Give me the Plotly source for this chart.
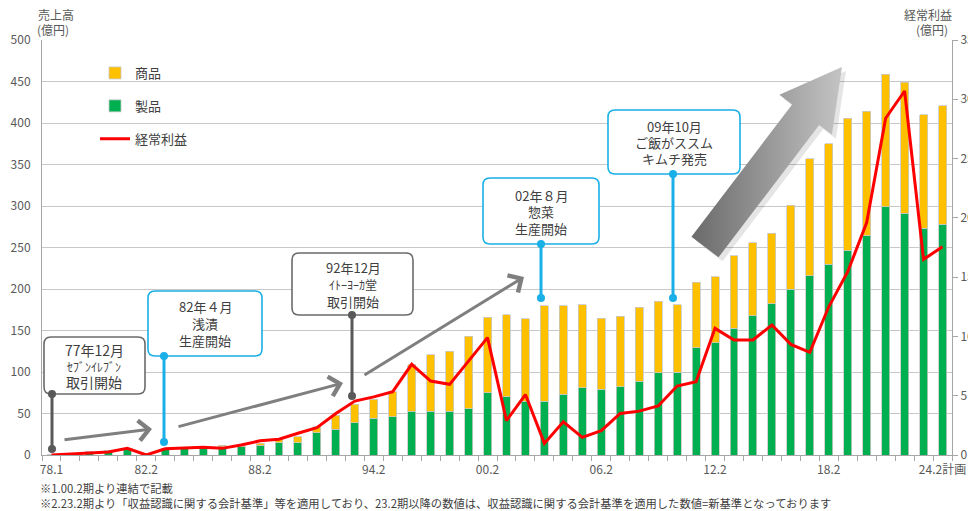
import plotly.graph_objects as go
import numpy as np

# ---------------- DATA ----------------
periods = ["78.1", "79.1", "80.1", "81.1", "82.1", "82.2", "83.2", "84.2", "85.2", "86.2",
           "87.2", "88.2", "89.2", "90.2", "91.2", "92.2", "93.2", "94.2", "95.2", "96.2",
           "97.2", "98.2", "99.2", "00.2", "01.2", "02.2", "03.2", "04.2", "05.2", "06.2",
           "07.2", "08.2", "09.2", "10.2", "11.2", "12.2", "13.2", "14.2", "15.2", "16.2",
           "17.2", "18.2", "19.2", "20.2", "21.2", "22.2", "23.2", "24.2計画"]

tick_labels = ["78.1", "82.2", "88.2", "94.2", "00.2", "06.2", "12.2", "18.2", "24.2計画"]

# 製品 (億円)
seihin = [1, 2, 4, 5, 7, 0.5, 7, 8, 9, 10,
          10, 12, 15, 15, 27, 31, 39, 44, 46, 53,
          53, 53, 56, 75, 70, 65, 65, 73, 81, 79,
          82, 89, 99, 100, 129, 135, 153, 168, 182, 200,
          216, 230, 246, 264, 299, 291, 273, 278]

# 商品 (億円)
shohin = [0, 0, 0, 0, 1, 0, 1, 1, 1, 2,
          1, 2, 5, 7, 7, 17, 22, 23, 30, 56,
          68, 72, 87, 91, 99, 99, 115, 107, 100, 86,
          85, 89, 86, 81, 79, 80, 87, 88, 85, 101,
          141, 145, 160, 150, 160, 158, 137, 143]

# 経常利益 (億円)
keijo = [0, 0.1, 0.2, 0.25, 0.56, 0, 0.53, 0.62, 0.65, 0.56,
         0.84, 1.2, 1.33, 1.83, 2.3, 3.5, 4.55, 4.9, 5.34, 7.65,
         6.24, 5.96, 7.93, 9.9, 2.9, 5.1, 0.98, 2.8, 1.49, 2.05,
         3.5, 3.7, 4.13, 5.82, 6.18, 10.68, 9.7, 9.7, 10.96, 9.33,
         8.66, 12.5, 15.46, 19.6, 28.4, 30.7, 16.5, 17.56]

# ---------------- STYLE ----------------
FONT = "Noto Sans CJK JP"
TXT = "#404040"
AX = "#a6a6a6"
GRID = "#c8c8c8"
ORANGE = "#FFC000"
GREEN = "#00B050"
RED = "#FF0000"
GRAYBOX = "#6b6b6b"
BLUE = "#1AAFE6"

W, H = 968, 511
ML, MR, MT, MB = 42, 16, 40, 56
PX0, PX1, PY0, PY1 = ML, W - MR, MT, H - MB  # plot area in pixels


def to_paper(px, py):
    return (px - PX0) / (PX1 - PX0), (PY1 - py) / (PY1 - PY0)


xs = list(range(len(periods)))
tickvals = [periods.index(t) for t in tick_labels]

fig = go.Figure()

fig.add_trace(go.Bar(x=xs, y=seihin, name="製品", marker_color=GREEN,
                     marker_line=dict(color="#c8c8c8", width=0.8), width=0.42,
                     legendrank=2, legendgroup="g2", hoverinfo="skip"))
fig.add_trace(go.Bar(x=xs, y=shohin, name="商品", marker_color=ORANGE,
                     marker_line=dict(color="#c8c8c8", width=0.8), width=0.42,
                     legendrank=1, legendgroup="g1", hoverinfo="skip"))
fig.add_trace(go.Scatter(x=xs, y=keijo, name="経常利益", mode="lines", yaxis="y2",
                         line=dict(color=RED, width=3), legendrank=3, legendgroup="g3",
                         hoverinfo="skip"))

# ---------------- BIG GRADIENT ARROW (pixel coords on overlay axes) ----------------
T = np.array([705.0, 247.0])   # tail centre
P = np.array([842.0, 67.0])    # tip
u = (P - T) / np.linalg.norm(P - T)
n = np.array([-u[1], u[0]])
B = P - u * 60                 # head base centre
w, h = 17, 33
pts = [T + w * n, B + w * n, B + h * n, P, B - h * n, B - w * n, T - w * n, T + w * n]
ax_ = [p[0] for p in pts]
ay_ = [p[1] for p in pts]

fig.add_trace(go.Scatter(x=[a + 4 for a in ax_], y=[b + 4 for b in ay_], xaxis="x3", yaxis="y3",
                         mode="lines", line=dict(width=0), fill="toself",
                         fillcolor="rgba(0,0,0,0.10)", showlegend=False, hoverinfo="skip"))
fig.add_trace(go.Scatter(x=ax_, y=ay_, xaxis="x3", yaxis="y3", mode="lines",
                         line=dict(width=0), fill="toself",
                         fillgradient=dict(type="horizontal",
                                           colorscale=[[0, "#6a6a6a"], [1, "#c4c4c4"]]),
                         showlegend=False, hoverinfo="skip"))


def rrect(x0, y0, x1, y1, r=7):
    return (f"M{x0+r},{y0} L{x1-r},{y0} Q{x1},{y0} {x1},{y0+r} L{x1},{y1-r} "
            f"Q{x1},{y1} {x1-r},{y1} L{x0+r},{y1} Q{x0},{y1} {x0},{y1-r} "
            f"L{x0},{y0+r} Q{x0},{y0} {x0+r},{y0} Z")


shapes = []
annotations = []

callouts = [
    ((44, 337, 145, 394), GRAYBOX, 52, (394, 449),
     [(94, 350, "77年12月", 14), (94, 366, "ｾﾌﾞﾝｲﾚﾌﾞﾝ", 12), (94, 382, "取引開始", 14)]),
    ((148, 291, 262, 356), BLUE, 164, (356, 442),
     [(205, 306, "82年４月", 13), (205, 323, "浅漬", 13), (205, 340, "生産開始", 13)]),
    ((292, 253, 413, 315), GRAYBOX, 352, (315, 396),
     [(353, 267, "92年12月", 13), (353, 284, "ｲﾄｰﾖｰｶ堂", 12), (353, 301, "取引開始", 13)]),
    ((483, 178, 599, 244), BLUE, 541, (244, 298),
     [(541, 195, "02年８月", 13), (541, 211, "惣菜", 13), (541, 228, "生産開始", 13)]),
    ((608, 110, 740, 174), BLUE, 673, (174, 298),
     [(674, 126, "09年10月", 13), (674, 142, "ご飯がススム", 13), (674, 158, "キムチ発売", 13)]),
]

for (x0, y0, x1, y1), col, px, (py0, py1), lines in callouts:
    c = col if col == BLUE else "#595959"
    shapes.append(dict(type="path", path=rrect(x0, y0, x1, y1), xref="x3", yref="y3",
                       line=dict(color=col, width=1.6), fillcolor="white", layer="above"))
    shapes.append(dict(type="line", x0=px, x1=px, y0=py0, y1=py1, xref="x3", yref="y3",
                       line=dict(color=c, width=3)))
    for yy in (py0, py1):
        shapes.append(dict(type="circle", x0=px - 4, x1=px + 4, y0=yy - 4, y1=yy + 4,
                           xref="x3", yref="y3", fillcolor=c, line=dict(color=c, width=0)))
    for tx, ty, t, fs in lines:
        annotations.append(dict(x=tx, y=ty, xref="x3", yref="y3", text=t, showarrow=False,
                                font=dict(family=FONT, size=fs, color=TXT),
                                xanchor="center", yanchor="middle"))

# thin gray arrows
for (tx0, ty0), (tx1, ty1) in [((63, 440), (152, 429)), ((177, 427), (343, 383)),
                               ((363, 376), (524, 277))]:
    annotations.append(dict(x=tx1, y=ty1, ax=tx0, ay=ty0, xref="x3", yref="y3",
                            axref="x3", ayref="y3", text="", showarrow=True,
                            arrowhead=4, arrowsize=1.3, arrowwidth=3, arrowcolor="#7f7f7f"))

# axis titles (paper coords, outside plot area)
for tx, ty, t, anc in [(36, 14, "売上高", "left"), (35, 30, "(億円)", "left"),
                       (954, 14, "経常利益", "right"), (950, 30, "(億円)", "right")]:
    xp, yp = to_paper(tx, ty)
    annotations.append(dict(x=xp, y=yp, xref="paper", yref="paper", text=t, showarrow=False,
                            font=dict(family=FONT, size=12, color="#595959"),
                            xanchor=anc, yanchor="middle"))

# footnotes
for ty, t in [(488, "※1.00.2期より連結で記載"),
              (503, "※2.23.2期より「収益認識に関する会計基準」等を適用しており、23.2期以降の数値は、"
                    "収益認識に関する会計基準を適用した数値=新基準となっております")]:
    xp, yp = to_paper(38, ty)
    annotations.append(dict(x=xp, y=yp, xref="paper", yref="paper", text=t, showarrow=False,
                            font=dict(family=FONT, size=11.3, color=TXT),
                            xanchor="left", yanchor="middle"))

lx, ly = to_paper(95, 58)

fig.update_layout(
    width=W, height=H,
    margin=dict(l=ML, r=MR, t=MT, b=MB, pad=0, autoexpand=False),
    paper_bgcolor="white", plot_bgcolor="white",
    barmode="stack", bargap=0.5,
    font=dict(family=FONT, color="#595959", size=12),
    showlegend=True,
    legend=dict(x=lx, y=ly, xanchor="left", yanchor="top",
                bgcolor="rgba(0,0,0,0)", font=dict(family=FONT, size=13, color=TXT),
                tracegroupgap=13, traceorder="grouped"),
    xaxis=dict(range=[-0.5, len(periods) - 0.5], tickmode="array", tickvals=tickvals,
               ticktext=tick_labels, ticks="", showline=True, linecolor=AX, linewidth=1,
               showgrid=False, zeroline=False, tickfont=dict(size=12, color="#595959"),
               ticklabelstandoff=4, automargin=False,
               minor=dict(ticks="outside", tickmode="linear", tick0=-0.5, dtick=1,
                          ticklen=5, tickcolor=AX, showgrid=False),
               fixedrange=True),
    yaxis=dict(range=[0, 500], dtick=50, showgrid=True, gridcolor=GRID, gridwidth=1,
               showline=True, linecolor=AX, zeroline=False, ticks="", automargin=False,
               ticklabelstandoff=8,
               tickfont=dict(size=12, color="#595959"), fixedrange=True),
    yaxis2=dict(range=[0, 35], dtick=5, overlaying="y", side="right", showgrid=False,
                showline=True, linecolor=AX, zeroline=False, ticks="outside", ticklen=5,
                tickcolor=AX, tickfont=dict(size=12, color="#595959"), fixedrange=True,
                automargin=False),
    xaxis3=dict(range=[PX0, PX1], overlaying="x", visible=False, fixedrange=True, anchor="y3",
                automargin=False),
    yaxis3=dict(range=[PY1, PY0], overlaying="y", visible=False, fixedrange=True, anchor="x3",
                automargin=False),
    shapes=shapes,
    annotations=annotations,
)

fig.write_html("out.html")
